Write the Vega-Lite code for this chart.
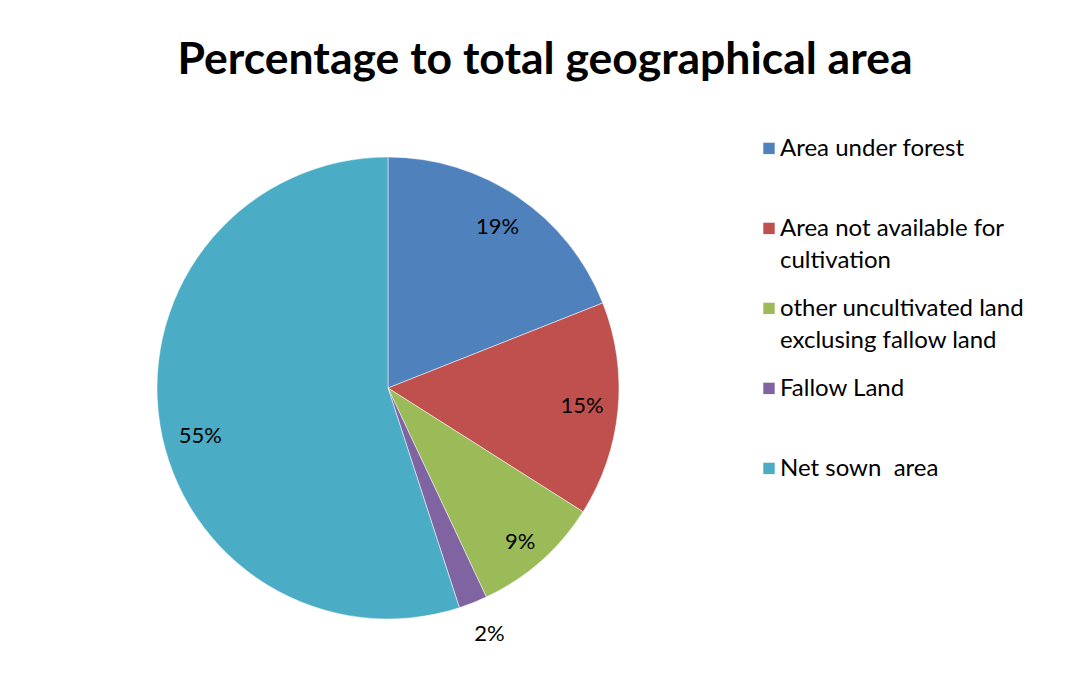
{
  "$schema": "https://vega.github.io/schema/vega-lite/v6.json",
  "autosize": {"type": "none"},
  "width": 776,
  "height": 462,
  "padding": {"left": 0, "top": 157, "right": 299, "bottom": 62},
  "background": "white",
  "title": {
    "text": "Percentage to total geographical area",
    "font": "Lato",
    "fontSize": 44.5,
    "fontWeight": "bold",
    "color": "black",
    "anchor": "middle",
    "frame": "group",
    "dx": 157,
    "baseline": "alphabetic",
    "offset": 7
  },
  "data": {
    "values": [
      {"category": "Area under forest", "share": 0.19, "idx": 1},
      {"category": "Area not available for cultivation", "share": 0.15, "idx": 2},
      {"category": "other uncultivated land exclusing fallow land", "share": 0.09, "idx": 3},
      {"category": "Fallow Land", "share": 0.02, "idx": 4},
      {"category": "Net sown  area", "share": 0.55, "idx": 5}
    ]
  },
  "encoding": {
    "theta": {"field": "share", "type": "quantitative", "stack": true},
    "order": {"field": "idx", "type": "quantitative"},
    "color": {
      "field": "category",
      "type": "nominal",
      "sort": null,
      "scale": {
        "domain": ["Area under forest", "Area not available for cultivation", "other uncultivated land exclusing fallow land", "Fallow Land", "Net sown  area"],
        "range": ["#4F81BD", "#C0504D", "#9BBB59", "#8064A2", "#4BACC6"]
      },
      "legend": {
        "title": null,
        "orient": "none",
        "legendX": 757,
        "legendY": -32,
        "symbolType": "M-1,1H1V3H-1Z",
        "symbolSize": 130,
        "symbolStrokeWidth": 0,
        "labelFont": "Lato",
        "labelFontSize": 24,
        "labelColor": "black",
        "labelLimit": 400,
        "labelOffset": -1,
        "labelBaseline": "top",
        "gridAlign": "all",
        "rowPadding": 12,
        "labelExpr": "datum.label == 'Area not available for cultivation' ? ['Area not available for', 'cultivation'] : datum.label == 'other uncultivated land exclusing fallow land' ? ['other uncultivated land', 'exclusing fallow land'] : datum.label == 'Net sown  area' ? 'Net sown\u00a0 area' : datum.label"
      }
    }
  },
  "layer": [
    {"mark": {"type": "arc", "stroke": "white", "strokeWidth": 0.5}},
    {
      "mark": {"type": "text", "radius": 195, "font": "Lato", "fontSize": 22},
      "encoding": {
        "color": {"value": "black"},
        "text": {"condition": {"test": "datum.share > 0.1 && datum.share < 0.5", "field": "share", "type": "quantitative", "format": ".0%"}, "value": ""}
      }
    },
    {
      "mark": {"type": "text", "radius": 200, "font": "Lato", "fontSize": 22, "dy": 4},
      "encoding": {
        "color": {"value": "black"},
        "text": {"condition": {"test": "datum.share > 0.03 && datum.share < 0.1", "field": "share", "type": "quantitative", "format": ".0%"}, "value": ""}
      }
    },
    {
      "mark": {"type": "text", "radius": 194, "font": "Lato", "fontSize": 22, "dx": 4, "dy": 18},
      "encoding": {
        "color": {"value": "black"},
        "text": {"condition": {"test": "datum.share >= 0.5", "field": "share", "type": "quantitative", "format": ".0%"}, "value": ""}
      }
    },
    {
      "mark": {"type": "text", "radius": 265, "font": "Lato", "fontSize": 22, "dx": 4},
      "encoding": {
        "color": {"value": "black"},
        "text": {"condition": {"test": "datum.share <= 0.03", "field": "share", "type": "quantitative", "format": ".0%"}, "value": ""}
      }
    }
  ],
  "config": {
    "view": {"stroke": null},
    "style": {"guide-label": {"lineHeight": 32}}
  }
}
